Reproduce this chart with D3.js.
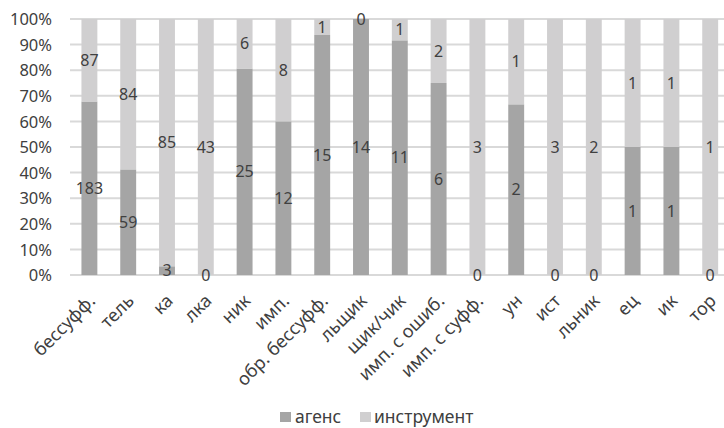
<!DOCTYPE html>
<html><head><meta charset="utf-8">
<script src="https://cdn.jsdelivr.net/npm/d3@7"></script>
<style>body{margin:0;background:#fff}svg{display:block}text{font-family:"Noto Sans",sans-serif;fill:#404040}</style>
</head><body><svg id="c" width="724" height="428"></svg>
<script>
const categories = ["бессуфф.","тель","ка","лка","ник","имп.","обр. бессуфф.","льщик","щик/чик","имп. с ошиб.","имп. с суфф.","ун","ист","льник","ец","ик","тор"];
const agens = [183,59,3,0,25,12,15,14,11,6,0,2,0,0,1,1,0];
const instrument = [87,84,85,43,6,8,1,0,1,2,3,1,3,2,1,1,1];
const seriesNames = ["агенс","инструмент"];
const yTicks = [0,0.1,0.2,0.3,0.4,0.5,0.6,0.7,0.8,0.9,1];
const colors = ["#a5a5a5","#d0cfd0"];

(function(){
const svg = d3.select("#c");
const pL = 70, pR = 729.6, pT = 19, pB = 275;
const x = d3.scaleBand().domain(categories).range([pL,pR]).paddingInner(0.59).paddingOuter(0.295);
const y = d3.scaleLinear().domain([0,1]).range([pB,pT]);

svg.append("g").selectAll("line").data(yTicks).join("line")
  .attr("x1",pL).attr("x2",724).attr("y1",d=>y(d)).attr("y2",d=>y(d))
  .attr("stroke","#d9d9d9").attr("stroke-width",2);

const yAxis = d3.axisLeft(y).tickValues(yTicks).tickFormat(d3.format(".0%")).tickSize(0).tickPadding(0);
const ya = svg.append("g").attr("transform",`translate(${pL-18},0)`).call(yAxis);
ya.select(".domain").remove();
ya.selectAll("text").attr("font-size",16.5).style("font-family","'Noto Sans',sans-serif").attr("fill","#404040").attr("dy","0.35em");

const data = categories.map((c,i)=>({cat:c, a:agens[i], b:instrument[i], t:agens[i]+instrument[i]}));
const stack = d3.stack().keys(["a","b"]).value((d,k)=>d[k]/d.t);
const series = stack(data);

const g = svg.append("g");
series.forEach((s,si)=>{
  g.append("g").selectAll("rect").data(s).join("rect")
    .attr("x",d=>x(d.data.cat)).attr("width",x.bandwidth())
    .attr("y",d=>y(d[1])).attr("height",d=>y(d[0])-y(d[1]))
    .attr("fill",colors[si]);
});
series.forEach((s,si)=>{
  g.append("g").selectAll("text").data(s).join("text")
    .attr("x",d=>x(d.data.cat)+x.bandwidth()/2)
    .attr("y",d=>y((d[0]+d[1])/2))
    .attr("dy","0.35em").attr("text-anchor","middle").attr("font-size",16)
    .text(d=>si===0?d.data.a:d.data.b);
});

const xa = svg.append("g").attr("transform",`translate(0,${pB})`)
  .call(d3.axisBottom(x).tickSize(0).tickPadding(0));
xa.select(".domain").remove();
xa.selectAll("text").attr("font-size",18).style("font-family","'Noto Sans',sans-serif").attr("fill","#404040")
  .attr("text-anchor","end").attr("dy",0)
  .attr("transform","translate(7,27) rotate(-45)").attr("y",0).attr("x",0);

const leg = svg.append("g");
const lx = [280,360];
const tx = [295,374];
seriesNames.forEach((n,i)=>{
  leg.append("rect").attr("x",lx[i]).attr("y",412).attr("width",11).attr("height",10).attr("fill",colors[i]);
  leg.append("text").attr("x",tx[i]).attr("y",417).attr("dy","0.35em").attr("font-size",17.5).text(n);
});
})();
</script></body></html>
